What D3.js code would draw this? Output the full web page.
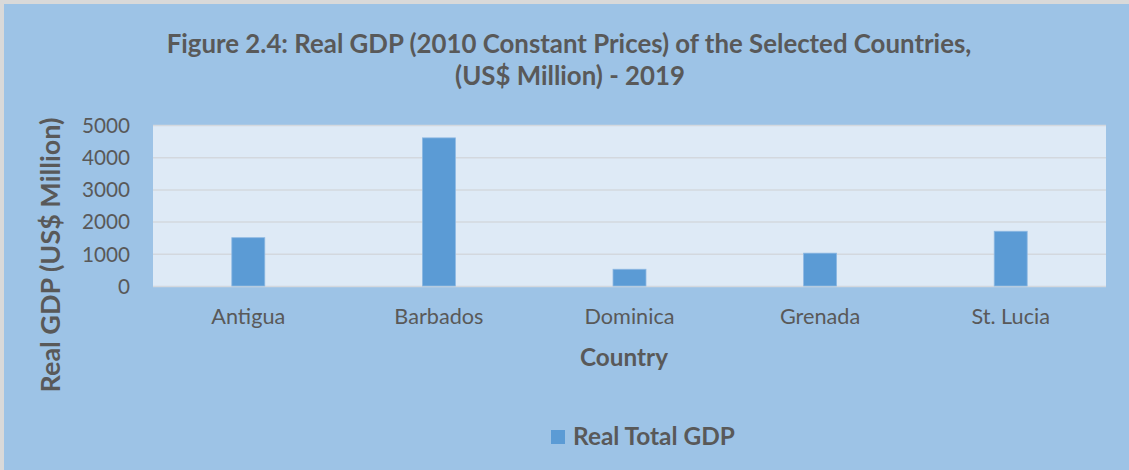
<!DOCTYPE html>
<html>
<head>
<meta charset="utf-8">
<script src="https://cdn.jsdelivr.net/npm/d3@7"></script>
<style>
  html, body { margin: 0; padding: 0; background: #9DC3E6; }
  svg { display: block; }
  text { font-family: Lato, "Open Sans", sans-serif; fill: #595959; }
</style>
</head>
<body>
<svg id="chart" width="1129" height="470"></svg>
<script>
const countries = ["Antigua", "Barbados", "Dominica", "Grenada", "St. Lucia"];
const realGDP = [1500, 4600, 520, 1020, 1700];
const yTicks = [0, 1000, 2000, 3000, 4000, 5000];
const seriesName = "Real Total GDP";
const titleLines = ["Figure 2.4: Real GDP (2010 Constant Prices) of the Selected Countries,", "(US$ Million) - 2019"];
const xTitle = "Country";
const yTitle = "Real GDP (US$ Million)";

const W = 1129, H = 470;
const svg = d3.select("#chart");
const margin = {left: 153, right: 1129 - 1106, top: 125, bottom: 470 - 286};

function fit(sel, target) {
  const node = sel.node();
  let fs = parseFloat(sel.attr("font-size"));
  for (let i = 0; i < 3; i++) {
    const w = node.getComputedTextLength();
    if (w > 0) { fs = fs * target / w; sel.attr("font-size", fs); }
  }
  return fs;
}

// background
svg.append("rect").attr("x", 0).attr("y", 0).attr("width", W).attr("height", H).attr("fill", "#9DC3E6");
svg.append("rect").attr("x", 0).attr("y", 0).attr("width", W).attr("height", 4).attr("fill", "#D9D9D9");
svg.append("rect").attr("x", 0).attr("y", 0).attr("width", 4).attr("height", H).attr("fill", "#D9D9D9");

const x = d3.scaleBand().domain(countries).range([margin.left, W - margin.right]).paddingInner(0.827).paddingOuter(0.4135);
const y = d3.scaleLinear().domain([0, 5000]).range([H - margin.bottom, margin.top]);

// plot area
svg.append("rect")
  .attr("x", margin.left).attr("y", margin.top)
  .attr("width", W - margin.right - margin.left).attr("height", H - margin.bottom - margin.top)
  .attr("fill", "#DEEAF6");

// grid
const grid = svg.append("g").attr("transform", `translate(${margin.left},0)`)
  .call(d3.axisLeft(y).tickValues(yTicks).tickSize(-(W - margin.right - margin.left)).tickFormat(""));
grid.select(".domain").remove();
grid.selectAll("line").attr("stroke", "#D3D8DE").attr("stroke-width", 1.5);

// y axis labels
const yAx = svg.append("g").attr("transform", `translate(${margin.left},0)`)
  .call(d3.axisLeft(y).tickValues(yTicks).tickSize(0).tickPadding(23).tickFormat(d3.format("d")));
yAx.select(".domain").remove();
yAx.selectAll("text").attr("font-size", 19).attr("font-family", "Lato, sans-serif").attr("fill", "#595959");
const yfs = fit(yAx.selectAll("text").filter(d => d === 5000), 48);
yAx.selectAll("text").attr("font-size", yfs).attr("dy", "0.35em");

// bars
svg.append("g").selectAll("rect").data(countries).join("rect")
  .attr("x", d => x(d))
  .attr("y", (d, i) => y(realGDP[i]))
  .attr("width", x.bandwidth())
  .attr("height", (d, i) => y(0) - y(realGDP[i]))
  .attr("fill", "#5B9BD5")
  .attr("stroke", "#8DB8E2").attr("stroke-width", 0.8);

// x axis
const xAx = svg.append("g").attr("transform", `translate(0,${H - margin.bottom})`)
  .call(d3.axisBottom(x).tickSize(0).tickPadding(23));
xAx.select(".domain").remove();
xAx.selectAll("text").attr("font-size", 19).attr("font-family", "Lato, sans-serif").attr("fill", "#595959");
const xfs = fit(xAx.selectAll("text").filter(d => d === "Antigua"), 74);
xAx.selectAll("text").attr("font-size", xfs);

// title
const t1 = svg.append("text").attr("x", 569).attr("y", 53).attr("text-anchor", "middle")
  .attr("font-size", 22).attr("font-weight", "bold").text(titleLines[0]);
fit(t1, 805);
const t2 = svg.append("text").attr("x", 570).attr("y", 85).attr("text-anchor", "middle")
  .attr("font-size", 22).attr("font-weight", "bold").text(titleLines[1]);
fit(t2, 230);

// axis titles
const xt = svg.append("text").attr("x", 624).attr("y", 366).attr("text-anchor", "middle")
  .attr("font-size", 24).attr("font-weight", "bold").text(xTitle);
fit(xt, 88);
const yt = svg.append("text").attr("transform", "translate(60,255) rotate(-90)").attr("text-anchor", "middle")
  .attr("font-size", 24).attr("font-weight", "bold").text(yTitle);
fit(yt, 275);

// legend
const leg = svg.append("g");
leg.append("rect").attr("x", 551).attr("y", 430).attr("width", 14).attr("height", 14).attr("fill", "#5B9BD5");
const lt = leg.append("text").attr("x", 573).attr("y", 445).attr("font-size", 22).attr("font-weight", "bold").text(seriesName);
fit(lt, 162);
</script>
</body>
</html>
